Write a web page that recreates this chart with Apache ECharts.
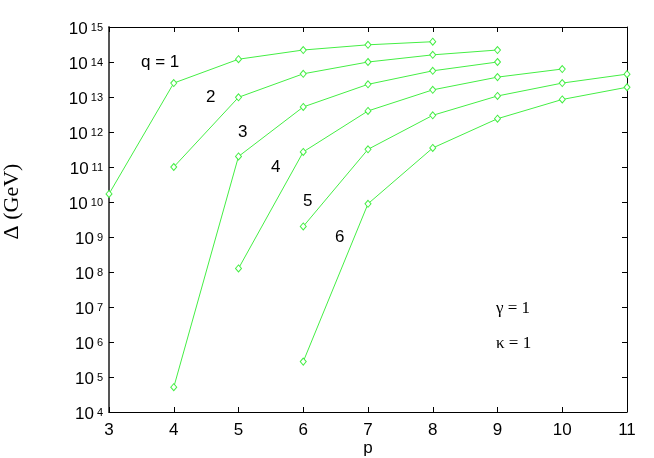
<!DOCTYPE html>
<html>
<head>
    <meta charset="utf-8">
    <title>Delta vs p</title>
    <script src="https://cdn.jsdelivr.net/npm/echarts@6/dist/echarts.min.js"></script>
    <style>
        html, body { margin: 0; padding: 0; background: #fff; }
        #chart { width: 654px; height: 458px; }
    </style>
</head>
<body>
<div id="chart"></div>
<script>
    // p 值 (横轴)
    var xTicks = [3, 4, 5, 6, 7, 8, 9, 10, 11];
    // 纵轴 10 的指数
    var yExps = [4, 5, 6, 7, 8, 9, 10, 11, 12, 13, 14, 15];

    // 每条曲线: p 值 + Delta 值 (GeV)
    var q1P = [3, 4, 5, 6, 7, 8];
    var q1 = [1.7e10, 2.5e13, 1.2e14, 2.2e14, 3.1e14, 3.8e14];
    var q2P = [4, 5, 6, 7, 8, 9];
    var q2 = [1.0e11, 9.8e12, 4.6e13, 1.0e14, 1.6e14, 2.2e14];
    var q3P = [4, 5, 6, 7, 8, 9];
    var q3 = [5.1e4, 2.0e11, 5.2e12, 2.3e13, 5.6e13, 1.0e14];
    var q4P = [5, 6, 7, 8, 9, 10];
    var q4 = [1.26e8, 2.7e11, 4.0e12, 1.6e13, 3.7e13, 6.3e13];
    var q5P = [6, 7, 8, 9, 10, 11];
    var q5 = [2.0e9, 3.2e11, 3.0e12, 1.07e13, 2.5e13, 4.5e13];
    var q6P = [6, 7, 8, 9, 10, 11];
    var q6 = [2.75e5, 8.9e9, 3.5e11, 2.4e12, 8.5e12, 1.9e13];

    var qNames = ['q = 1', '2', '3', '4', '5', '6'];

    var green = '#44ee44';
    var myChart = echarts.init(document.getElementById('chart'));

    function pairs(ps, vs) {
        return ps.map(function (p, i) { return [p, vs[i]]; });
    }
    function makeSeries(name, ps, vs) {
        return {
            name: name,
            type: 'line',
            data: pairs(ps, vs),
            symbol: 'diamond',
            symbolSize: [6, 7],
            showSymbol: true,
            itemStyle: { color: '#fff', borderColor: green, borderWidth: 1 },
            lineStyle: { color: green, width: 1 },
            animation: false,
            xAxisIndex: 0,
            yAxisIndex: 0
        };
    }

    var labelFont = 'Liberation Sans, Arial, sans-serif';
    var serif = 'Liberation Serif, DejaVu Serif, serif';

    function txt(text, x, y, font, size) {
        return {
            type: 'text', left: x, top: y,
            style: { text: text, font: size + 'px ' + font, fill: '#000' }
        };
    }

    var option = {
        animation: false,
        grid: { left: 109, right: 27, top: 27, bottom: 46, containLabel: false, outerBoundsMode: 'none' },
        xAxis: [
            {
                type: 'value', min: 3, max: 11, interval: 1,
                name: 'p', nameLocation: 'middle', nameGap: 28, nameMoveOverlap: false,
                nameTextStyle: { fontFamily: labelFont, fontSize: 17, color: '#000' },
                axisLine: { lineStyle: { color: '#000', width: 1 } },
                axisTick: { inside: true, length: 5, lineStyle: { color: '#000' } },
                axisLabel: {
                    margin: 10, fontFamily: labelFont, fontSize: 17, color: '#000',
                    formatter: function (v) { return xTicks.indexOf(v) >= 0 ? String(v) : ''; }
                },
                splitLine: { show: false }
            },
            {
                type: 'value', min: 3, max: 11, interval: 1, position: 'top',
                axisLine: { lineStyle: { color: '#000', width: 1 } },
                axisTick: { inside: true, length: 5, lineStyle: { color: '#000' } },
                axisLabel: { show: false },
                splitLine: { show: false }
            }
        ],
        yAxis: [
            {
                type: 'log', logBase: 10, min: 1e4, max: 1e15, interval: 1,
                name: 'Δ (GeV)', nameLocation: 'middle', nameGap: 86, nameRotate: 90, nameMoveOverlap: false,
                nameTextStyle: { fontFamily: serif, fontSize: 22, color: '#000', padding: [0, 0, 0, 36] },
                axisLine: { lineStyle: { color: '#555', width: 2 } },
                axisTick: { inside: true, length: 5, lineStyle: { color: '#000' } },
                axisLabel: {
                    margin: 6,
                    formatter: function (v) {
                        var e = Math.round(Math.log10(v));
                        return yExps.indexOf(e) >= 0 ? '{b|10}{s|' + e + '}' : '';
                    },
                    rich: {
                        b: { fontFamily: labelFont, fontSize: 17, color: '#000', verticalAlign: 'bottom', lineHeight: 22 },
                        s: { fontFamily: labelFont, fontSize: 11, color: '#000', verticalAlign: 'top', padding: [6, 0, 0, 3], lineHeight: 14 }
                    }
                },
                splitLine: { show: false }
            },
            {
                type: 'log', logBase: 10, min: 1e4, max: 1e15, interval: 1, position: 'right',
                axisLine: { lineStyle: { color: '#000', width: 1 } },
                axisTick: { inside: true, length: 5, lineStyle: { color: '#000' } },
                axisLabel: { show: false },
                splitLine: { show: false }
            }
        ],
        graphic: [
            txt(qNames[0], 141, 54, labelFont, 17),
            txt(qNames[1], 206, 89, labelFont, 17),
            txt(qNames[2], 238, 124, labelFont, 17),
            txt(qNames[3], 271, 159, labelFont, 17),
            txt(qNames[4], 303, 193, labelFont, 17),
            txt(qNames[5], 335, 229, labelFont, 17),
            txt('γ = 1', 496, 300, serif, 17),
            txt('κ = 1', 496, 335, serif, 17)
        ],
        series: [
            makeSeries('q1', q1P, q1),
            makeSeries('q2', q2P, q2),
            makeSeries('q3', q3P, q3),
            makeSeries('q4', q4P, q4),
            makeSeries('q5', q5P, q5),
            makeSeries('q6', q6P, q6)
        ]
    };
    myChart.setOption(option, true);
</script>
</body>
</html>
